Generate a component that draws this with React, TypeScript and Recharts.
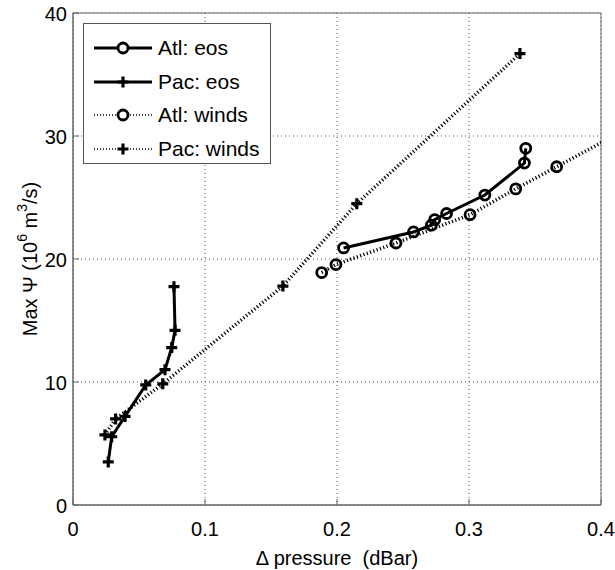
import React from 'react';
import { LineChart, Line, XAxis, YAxis, CartesianGrid, ReferenceArea, Label } from 'recharts';

const xTicks = [0, 0.1, 0.2, 0.3, 0.4];
const yTicks = [0, 10, 20, 30, 40];
const seriesNames = ['Atl: eos', 'Pac: eos', 'Atl: winds', 'Pac: winds'];

const atlEos = [
  { x: 0.205, y: 20.9 },
  { x: 0.258, y: 22.2 },
  { x: 0.2715, y: 22.75 },
  { x: 0.274, y: 23.2 },
  { x: 0.283, y: 23.7 },
  { x: 0.312, y: 25.2 },
  { x: 0.342, y: 27.8 },
  { x: 0.343, y: 29.0 },
];

const pacEos = [
  { x: 0.0267, y: 3.5 },
  { x: 0.0293, y: 5.55 },
  { x: 0.0394, y: 7.2 },
  { x: 0.0551, y: 9.76 },
  { x: 0.0697, y: 11.0 },
  { x: 0.0748, y: 12.8 },
  { x: 0.0773, y: 14.2 },
  { x: 0.0765, y: 17.75 },
];

const atlWinds = [
  { x: 0.1884, y: 18.9 },
  { x: 0.1992, y: 19.55 },
  { x: 0.2447, y: 21.3 },
  { x: 0.3008, y: 23.6 },
  { x: 0.3354, y: 25.7 },
  { x: 0.3664, y: 27.5 },
  { x: 0.42, y: 30.6 },
];

const pacWinds = [
  { x: 0.0242, y: 5.7 },
  { x: 0.0323, y: 7.0 },
  { x: 0.068, y: 9.85 },
  { x: 0.159, y: 17.8 },
  { x: 0.215, y: 24.5 },
  { x: 0.3386, y: 36.7 },
];

const FONT = "'Liberation Sans', Arial, Helvetica, sans-serif";
const AXIS = '#666';

const CircleDot = (p: any) => {
  if (p.cx == null || p.cy == null) return null;
  return <circle key={p.key} cx={p.cx} cy={p.cy} r={5} fill="none" stroke="#000" strokeWidth={2.8} />;
};

const PlusDot = (p: any) => {
  if (p.cx == null || p.cy == null) return null;
  const s = 5.5;
  return (
    <path
      key={p.key}
      d={`M${p.cx - s},${p.cy}H${p.cx + s}M${p.cx},${p.cy - s}V${p.cy + s}`}
      stroke="#000"
      strokeWidth={3.2}
      fill="none"
    />
  );
};

const fmt = (v: number) => (v === 0 ? '0' : String(v));

const XTick = (p: any) => {
  const { x, y, payload } = p;
  return (
    <g>
      <line x1={x} x2={x} y1={y} y2={y - 6} stroke={AXIS} />
      <text x={x} y={y + 31} textAnchor="middle" fontSize={20} fontFamily={FONT} fill="#000">
        {fmt(payload.value)}
      </text>
    </g>
  );
};

const YTick = (p: any) => {
  const { x, y, payload } = p;
  return (
    <g>
      <line x1={x} x2={x + 6} y1={y} y2={y} stroke={AXIS} />
      <text x={x - 6} y={y + 8} textAnchor="end" fontSize={20} fontFamily={FONT} fill="#000">
        {fmt(payload.value)}
      </text>
    </g>
  );
};

const YLabel = (props: any) => {
  const vb = props.viewBox || { x: 0, y: 0, width: 0, height: 0 };
  const cx = vb.x + 30;
  const cy = vb.y + vb.height / 2;
  return (
    <text
      x={cx}
      y={cy}
      transform={`rotate(-90 ${cx} ${cy})`}
      textAnchor="middle"
      dominantBaseline="central"
      fontSize={20}
      fontFamily={FONT}
      fill="#000"
    >
      Max Ψ (10<tspan dy={-8} fontSize={14}>6</tspan>
      <tspan dy={8}> m</tspan>
      <tspan dy={-8} fontSize={14}>3</tspan>
      <tspan dy={8}>/s)</tspan>
    </text>
  );
};

const XLabel = (props: any) => {
  const vb = props.viewBox || { x: 0, y: 0, width: 0, height: 0 };
  const cx = vb.x + vb.width / 2;
  return (
    <text x={cx} y={vb.y + 60} textAnchor="middle" fontSize={20} fontFamily={FONT} fill="#000" xmlSpace="preserve">
      Δ pressure  (dBar)
    </text>
  );
};

const LegendBox = () => {
  const rows = [
    { dash: undefined, w: 3, marker: 'circle' },
    { dash: undefined, w: 3, marker: 'plus' },
    { dash: '1 2', w: 1.5, marker: 'circle' },
    { dash: '1 2', w: 1.5, marker: 'plus' },
  ];
  return (
    <div
      style={{
        position: 'absolute',
        left: 83,
        top: 23,
        width: 188,
        height: 141,
        border: '1px solid #555',
        background: '#fff',
        boxSizing: 'border-box',
        fontFamily: FONT,
        fontSize: 21,
      }}
    >
      {seriesNames.map((name, i) => {
        const r = rows[i];
        const top = 24 + i * 33.7;
        return (
          <div key={name} style={{ position: 'absolute', left: 0, top: top - 12, height: 24, width: 186 }}>
            <svg width={64} height={24} style={{ position: 'absolute', left: 8, top: 0 }}>
              <line x1={2} x2={60} y1={12} y2={12} stroke="#000" strokeWidth={r.w} strokeDasharray={r.dash} />
              {r.marker === 'circle' ? (
                <circle cx={31} cy={12} r={5} fill="#fff" stroke="#000" strokeWidth={2.8} />
              ) : (
                <path d="M25.5,12H36.5M31,6.5V17.5" stroke="#000" strokeWidth={3.2} />
              )}
            </svg>
            <span style={{ position: 'absolute', left: 74, top: 0, lineHeight: '24px', whiteSpace: 'nowrap' }}>{name}</span>
          </div>
        );
      })}
    </div>
  );
};

export default function App() {
  return (
    <div style={{ position: 'absolute', left: 0, top: 0, width: 615, height: 570, background: '#fff' }}>
      <LineChart width={615} height={570} margin={{ top: 13, right: 14, left: 0, bottom: 0 }}>
        <CartesianGrid stroke="#555" strokeDasharray="1 3" />
        <XAxis
          dataKey="x"
          type="number"
          domain={[0, 0.4]}
          ticks={xTicks}
          allowDataOverflow
          height={65}
          tickSize={0}
          tickMargin={0}
          tickLine={false}
          tick={<XTick />}
          stroke={AXIS}
        >
          <Label content={<XLabel />} />
        </XAxis>
        <XAxis
          xAxisId="top"
          orientation="top"
          type="number"
          domain={[0, 0.4]}
          ticks={xTicks}
          mirror
          height={0}
          tick={false}
          tickSize={6}
          stroke={AXIS}
        />
        <YAxis
          type="number"
          domain={[0, 40]}
          ticks={yTicks}
          allowDataOverflow
          width={73}
          tickSize={0}
          tickMargin={0}
          tickLine={false}
          tick={<YTick />}
          stroke={AXIS}
        >
          <Label content={<YLabel />} />
        </YAxis>
        <YAxis
          yAxisId="right"
          orientation="right"
          type="number"
          domain={[0, 40]}
          ticks={yTicks}
          mirror
          width={0}
          tick={false}
          tickSize={6}
          stroke={AXIS}
        />
        <ReferenceArea x1={0} x2={0.4} y1={0} y2={40} fill="none" stroke={AXIS} strokeWidth={1} />
        <Line
          data={atlWinds}
          dataKey="y"
          stroke="#000"
          strokeWidth={3.5}
          strokeDasharray="1.2 2.3"
          dot={<CircleDot />}
          isAnimationActive={false}
        />
        <Line
          data={pacWinds}
          dataKey="y"
          stroke="#000"
          strokeWidth={3.5}
          strokeDasharray="1.2 2.3"
          dot={<PlusDot />}
          isAnimationActive={false}
        />
        <Line data={atlEos} dataKey="y" stroke="#000" strokeWidth={3} dot={<CircleDot />} isAnimationActive={false} />
        <Line data={pacEos} dataKey="y" stroke="#000" strokeWidth={3} dot={<PlusDot />} isAnimationActive={false} />
      </LineChart>
      <LegendBox />
    </div>
  );
}
